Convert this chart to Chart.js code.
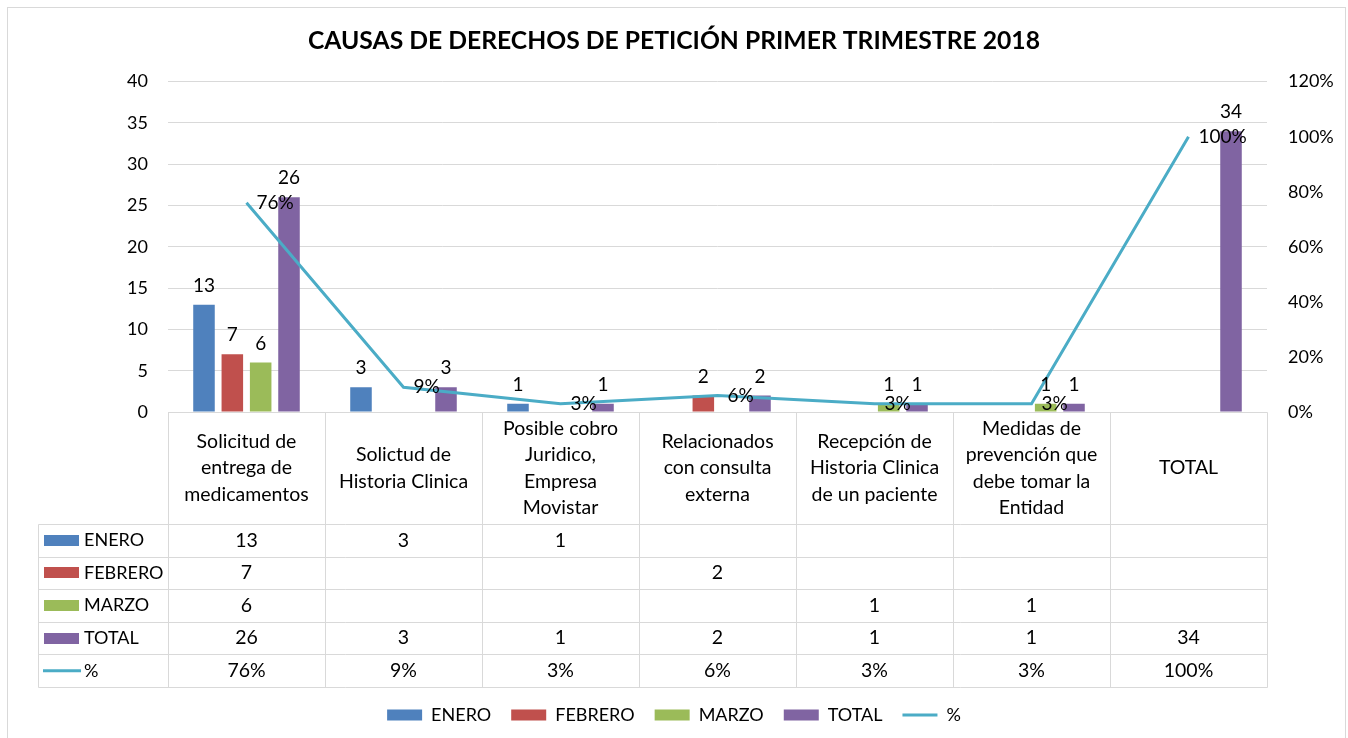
<!DOCTYPE html>
<html><head><meta charset="utf-8">
<script src="https://cdn.jsdelivr.net/npm/chart.js@4.4.0/dist/chart.umd.min.js"></script>
<style>html,body{margin:0;padding:0;background:#fff;}#wrap{width:1348px;height:738px;}</style>
</head><body><div id="wrap"><canvas id="c" width="1348" height="738"></canvas></div>
<script>
// ---- data ----
const categories = [
  ["Solicitud de","entrega de","medicamentos"],
  ["Solictud de","Historia Clinica"],
  ["Posible cobro","Juridico,","Empresa","Movistar"],
  ["Relacionados","con consulta","externa"],
  ["Recepción de","Historia Clinica","de un paciente"],
  ["Medidas de","prevención que","debe tomar la","Entidad"],
  ["TOTAL"]
];
const enero   = [13, 3, 1, null, null, null, null];
const febrero = [7, null, null, 2, null, null, null];
const marzo   = [6, null, null, null, 1, 1, null];
const total   = [26, 3, 1, 2, 1, 1, 34];
const pct     = [76, 9, 3, 6, 3, 3, 100];
const seriesNames = ["ENERO", "FEBRERO", "MARZO", "TOTAL", "%"];
const titleText = "CAUSAS DE DERECHOS DE PETICIÓN PRIMER TRIMESTRE 2018";
const leftAxis = {min: 0, max: 40, step: 5};
const rightAxis = {min: 0, max: 120, step: 20};

// ---- styles ----
const FONT = 'Lato, "Open Sans", sans-serif';
const GRID = '#D9D9D9';
const COLORS = ['#4F81BD', '#C0504D', '#9BBB59', '#8064A2', '#4BACC6'];

const barData = [enero, febrero, marzo, total];
const datasets = barData.map((d, i) => ({
  type: 'bar', label: seriesNames[i], data: d, backgroundColor: COLORS[i],
  borderWidth: 0, yAxisID: 'y', order: 1,
  categoryPercentage: 0.722, barPercentage: 0.76
}));
datasets.push({
  type: 'line', label: seriesNames[4], data: pct, borderColor: COLORS[4],
  backgroundColor: COLORS[4], borderWidth: 3, pointRadius: 0, tension: 0,
  yAxisID: 'y1', order: 0
});

const fmtPct = v => v + '%';

const extras = {
  id: 'extras',
  beforeDraw(chart) {
    const ctx = chart.ctx;
    ctx.save();
    ctx.fillStyle = '#fff';
    ctx.fillRect(0, 0, chart.width, chart.height);
    ctx.strokeStyle = GRID; ctx.lineWidth = 1;
    ctx.strokeRect(7.5, 7.5, 1338, 740);
    ctx.restore();
  },
  afterDatasetsDraw(chart) {
    const ctx = chart.ctx;
    ctx.save();
    ctx.font = '19px ' + FONT;
    ctx.fillStyle = '#000';
    ctx.textBaseline = 'middle';
    for (let i = 0; i < 4; i++) {
      const meta = chart.getDatasetMeta(i);
      ctx.textAlign = 'center';
      meta.data.forEach((el, j) => {
        const v = chart.data.datasets[i].data[j];
        if (v == null) return;
        ctx.fillText(String(v), el.x, el.y - 19);
      });
    }
    const lm = chart.getDatasetMeta(4);
    ctx.textAlign = 'left';
    lm.data.forEach((el, j) => {
      ctx.fillText(fmtPct(pct[j]), el.x + 10, el.y);
    });
    ctx.restore();
  },
  afterDraw(chart) {
    const ctx = chart.ctx, xs = chart.scales.x, ca = chart.chartArea;
    const n = categories.length;
    const colW = (xs.right - xs.left) / n;
    const top = ca.bottom, headH = 112, rowH = 32.6;
    const leftEdge = xs.left - 130;
    const rows = [enero, febrero, marzo, total, pct];
    const bottom = top + headH + rowH * rows.length;
    const p = v => Math.round(v) + 0.5;
    ctx.save();
    ctx.strokeStyle = GRID; ctx.lineWidth = 1;
    ctx.beginPath();
    ctx.moveTo(p(xs.left), p(top)); ctx.lineTo(p(xs.right), p(top));
    for (let r = 0; r <= rows.length; r++) {
      const y = p(top + headH + r * rowH);
      ctx.moveTo(p(leftEdge), y); ctx.lineTo(p(xs.right), y);
    }
    ctx.moveTo(p(leftEdge), p(top + headH)); ctx.lineTo(p(leftEdge), p(bottom));
    for (let c = 0; c <= n; c++) {
      const x = p(xs.left + c * colW);
      ctx.moveTo(x, p(top)); ctx.lineTo(x, p(bottom));
    }
    ctx.stroke();

    ctx.fillStyle = '#000';
    ctx.textAlign = 'center';
    ctx.textBaseline = 'middle';
    // header
    ctx.font = '19.5px ' + FONT;
    categories.forEach((lines, c) => {
      const cx = xs.left + (c + 0.5) * colW;
      lines.forEach((ln, k) => {
        ctx.fillText(ln, cx, top + headH / 2 + (k - (lines.length - 1) / 2) * 26.5);
      });
    });
    // rows
    rows.forEach((arr, r) => {
      const cy = top + headH + (r + 0.5) * rowH;
      ctx.font = '19.5px ' + FONT;
      ctx.textAlign = 'center';
      arr.forEach((v, c) => {
        if (v == null) return;
        const cx = xs.left + (c + 0.5) * colW;
        ctx.fillText(r === 4 ? fmtPct(v) : String(v), cx, cy);
      });
      // key
      if (r < 4) {
        ctx.fillStyle = COLORS[r];
        ctx.fillRect(leftEdge + 6, Math.round(cy - 5.5), 35, 11);
      } else {
        ctx.strokeStyle = COLORS[4]; ctx.lineWidth = 3;
        ctx.beginPath(); ctx.moveTo(leftEdge + 5, cy); ctx.lineTo(leftEdge + 43, cy); ctx.stroke();
      }
      ctx.fillStyle = '#000';
      ctx.textAlign = 'left';
      ctx.font = '18px ' + FONT;
      ctx.fillText(seriesNames[r], leftEdge + 46, cy);
    });
    ctx.restore();
  }
};

new Chart(document.getElementById('c'), {
  data: { labels: categories, datasets },
  options: {
    responsive: false, animation: false, devicePixelRatio: 1,
    layout: { padding: { top: 0, left: 0, right: 0, bottom: 4 } },
    plugins: {
      tooltip: { enabled: false },
      title: { display: true, text: titleText, color: '#000',
        font: { family: FONT, size: 24.7, weight: 'bold', lineHeight: 1.2 },
        padding: { top: 26, bottom: 26 } },
      legend: {
        position: 'bottom',
        labels: {
          usePointStyle: true, pointStyleWidth: 35, boxHeight: 11, padding: 20,
          color: '#000', font: { family: FONT, size: 18 },
          generateLabels: (chart) => chart.data.datasets.map((ds, i) => ({
            text: ds.label,
            fillStyle: ds.type === 'line' ? ds.borderColor : ds.backgroundColor,
            strokeStyle: ds.type === 'line' ? ds.borderColor : ds.backgroundColor,
            lineWidth: ds.type === 'line' ? 3 : 0,
            pointStyle: ds.type === 'line' ? 'line' : 'rect',
            hidden: false, datasetIndex: i, fontColor: '#000'
          }))
        }
      }
    },
    scales: {
      x: {
        grid: { display: false }, border: { display: false },
        ticks: { display: false },
        afterFit(s) { s.height = 274; }
      },
      y: {
        position: 'left', min: leftAxis.min, max: leftAxis.max,
        ticks: { stepSize: leftAxis.step, color: '#000', padding: 20, font: { family: FONT, size: 18 } },
        grid: { color: GRID, drawTicks: false }, border: { display: false },
        afterFit(s) { s.width = 168; }
      },
      y1: {
        position: 'right', min: rightAxis.min, max: rightAxis.max,
        ticks: { stepSize: rightAxis.step, color: '#000', padding: 21, callback: v => v + '%', font: { family: FONT, size: 18 } },
        grid: { display: false, drawTicks: false }, border: { display: false },
        afterFit(s) { s.width = 81; }
      }
    }
  },
  plugins: [extras]
});
</script></body></html>
